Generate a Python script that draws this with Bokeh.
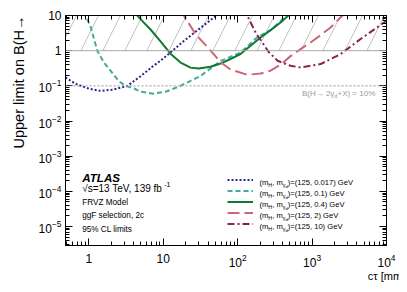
import math
from bokeh.plotting import figure
from bokeh.layouts import row
from bokeh.models import (Label, Span, LogAxis, FixedTicker, LogTickFormatter,
                          Range1d, Legend, LegendItem)
from bokeh.embed import file_html
from bokeh.resources import INLINE

# ---------------- data ----------------
m_H = 125
dark_photon_masses = ["0.017", "0.1", "0.4", "2", "10"]

ctau_0017 = [0.486, 0.66, 1.0, 1.44, 2.1, 3.3, 5.0, 7.0, 9.2, 12.5, 19, 27, 38, 52, 70]
limit_0017 = [0.174, 0.115, 0.083, 0.072, 0.078, 0.10, 0.19, 0.34, 0.52, 0.89, 1.9, 3.4, 6.0, 10, 16.5]

ctau_01 = [0.85, 0.90, 1.05, 1.3, 1.6, 1.96, 2.5, 3.1, 4.0, 4.95, 7.4, 11, 17, 31.6, 59, 110, 183, 280, 380, 440, 520]
limit_01 = [12.9, 10, 5.0, 1.0, 0.46, 0.27, 0.14, 0.10, 0.085, 0.068, 0.060, 0.069, 0.10, 0.19, 0.51, 0.89, 2.4, 3.9, 7.0, 10, 14.9]

ctau_04 = [4.0, 4.5, 4.95, 6.75, 9.2, 12.5, 17.1, 23.3, 30, 43, 59, 80, 109, 149, 203, 277, 377, 480, 560]
limit_04 = [13.4, 10, 7.9, 4.0, 1.85, 0.82, 0.46, 0.33, 0.31, 0.35, 0.43, 0.58, 0.80, 1.38, 2.37, 3.85, 6.3, 10, 13.4]

ctau_2 = [16.5, 18.9, 27.2, 43.3, 58.9, 80.3, 134.6, 203.7, 277, 378, 514, 701, 955, 1301, 1773, 2547, 3000]
limit_2 = [15.5, 10, 2.96, 1.0, 0.47, 0.29, 0.206, 0.225, 0.27, 0.40, 0.70, 1.11, 1.71, 2.77, 4.56, 9.8, 13]

ctau_10 = [120, 134.6, 174, 260, 344, 514, 701, 1301, 2415, 4487, 8337, 10000]
limit_10 = [16, 10, 3.29, 0.93, 0.516, 0.372, 0.333, 0.416, 0.80, 2.14, 5.4, 7.1]

x_limits = (0.486, 1.0e4)
y_limits = (2.9e-6, 10.0)
excluded_low, excluded_high = 1.0, 10.0
reference_level = 0.1
x_decades = [1, 10, 100, 1000, 10000]
y_decades = [1e-5, 1e-4, 1e-3, 1e-2, 1e-1, 1, 10]
plain_labels = {1.0: "1", 10.0: "10"}
x_title = "cτ [mm]"

colors = ["#332288", "#44AA99", "#117733", "#CC6677", "#882255"]
dashes = ["2 2", "5 3", "solid", "12 5", "7 3 2 3"]

FONT = "Liberation Sans"

# ---------------- layout geometry (page pixels) ----------------
TOTAL_W, TOTAL_H = 399, 284
STRIP_W = 28          # left strip holding the y title
MAIN_W = TOTAL_W - STRIP_W
MAIN_H = TOTAL_H
FRAME_L, FRAME_T, FRAME_R, FRAME_B = 65, 15, 386, 245


def blank_strip(w, h):
    f = figure(width=w, height=h, x_range=Range1d(0, w), y_range=Range1d(0, h),
               output_backend="svg", toolbar_location=None, title=None,
               x_axis_location=None, y_axis_location=None,
               min_border=0, min_border_left=0, min_border_right=0,
               min_border_top=0, min_border_bottom=0)
    f.grid.visible = False
    f.outline_line_color = None
    return f


# ---------------- main figure ----------------
p = figure(width=MAIN_W, height=MAIN_H, x_axis_type="log", y_axis_type="log",
           x_range=Range1d(*x_limits), y_range=Range1d(*y_limits),
           output_backend="svg", toolbar_location=None,
           min_border_left=FRAME_L - STRIP_W, min_border_right=TOTAL_W - FRAME_R,
           min_border_top=FRAME_T, min_border_bottom=MAIN_H - FRAME_B)
p.grid.visible = False
p.outline_line_color = "black"
p.outline_line_width = 1
p.background_fill_color = "white"

bottom_axis = p.below[0]
left_axis = p.left[0]


def minors(decs):
    lo = int(round(math.log10(decs[0]))) - 1
    hi = int(round(math.log10(decs[-1])))
    return [m * 10.0 ** e for e in range(lo, hi + 1) for m in range(2, 10)]


def style_axis(ax, decs, show_labels, standoff=5):
    ax.ticker = FixedTicker(ticks=decs, minor_ticks=minors(decs))
    ax.major_tick_in = 7
    ax.major_tick_out = 0
    ax.minor_tick_in = 4
    ax.minor_tick_out = 0
    ax.axis_line_color = "black"
    ax.major_tick_line_color = "black"
    ax.minor_tick_line_color = "black"
    if show_labels:
        ax.formatter = LogTickFormatter()
        ax.major_label_overrides = plain_labels
        ax.major_label_text_font = FONT
        ax.major_label_text_color = "black"
        ax.major_label_standoff = standoff
        ax.major_label_text_font_size = "12px"
    else:
        ax.major_label_text_font_size = "1px"
        ax.major_label_text_alpha = 0
        ax.major_label_standoff = 0


style_axis(bottom_axis, x_decades, True, standoff=8)
style_axis(left_axis, y_decades, True, standoff=4)
top_axis = LogAxis()
style_axis(top_axis, x_decades, False)
p.add_layout(top_axis, "above")
right_axis = LogAxis()
style_axis(right_axis, y_decades, False)
p.add_layout(right_axis, "right")

# x title: right-aligned at the end of the bottom axis
bottom_axis.axis_label_text_font = FONT
bottom_axis.axis_label_text_font_size = "11px"
bottom_axis.axis_label_text_font_style = "normal"
bottom_axis.axis_label_text_color = "black"
bottom_axis.axis_label_standoff = 0
if "axis_label_align" in bottom_axis.properties():
    bottom_axis.axis_label = x_title
    bottom_axis.axis_label_align = "end"
else:
    bottom_axis.axis_label = "\u00a0" * 92 + x_title

# excluded (hatched) region and reference lines
p.quad(left=[x_limits[0]], right=[x_limits[1]], bottom=[excluded_low], top=[excluded_high],
       fill_alpha=0, line_color=None, hatch_pattern="/", hatch_color="#a8a8a8",
       hatch_scale=44, hatch_weight=0.7)
p.add_layout(Span(location=excluded_low, dimension="width", line_color="#aaaaaa", line_width=1))
p.add_layout(Span(location=reference_level, dimension="width", line_color="#999999",
                  line_width=1, line_dash="2 2"))

# curves
series = [(ctau_0017, limit_0017), (ctau_01, limit_01), (ctau_04, limit_04),
          (ctau_2, limit_2), (ctau_10, limit_10)]
renderers = []
for (cx, cy), col, dsh in zip(series, colors, dashes):
    r = p.line(cx, cy, line_color=col, line_width=2, line_dash=dsh)
    renderers.append(r)

ROW_H = 11
LEG_X, LEG_BOTTOM = 227, 229   # page position of legend glyph column / lower edge
legend = Legend(items=[LegendItem(label=" ", renderers=[r]) for r in renderers],
                location=(LEG_X - FRAME_L, FRAME_B - LEG_BOTTOM), glyph_width=26,
                glyph_height=ROW_H, label_height=ROW_H,
                spacing=0, padding=0, margin=0, border_line_color=None,
                background_fill_alpha=0, label_text_font_size="2px", label_standoff=0,
                label_width=1)
p.add_layout(legend)

# ---------------- rich text helper ----------------
CW = {' ': 278, '(': 333, ')': 333, ',': 278, '.': 278, '=': 584, '+': 584, '-': 333, '%': 889,
      '[': 278, ']': 278, 'A': 667, 'B': 667, 'C': 722, 'F': 611, 'G': 778, 'H': 722, 'L': 556,
      'M': 833, 'R': 722, 'S': 667, 'T': 611, 'U': 722, 'V': 667, 'X': 667, 'Z': 611,
      'a': 556, 'b': 556, 'c': 500, 'd': 556, 'e': 556, 'f': 278, 'g': 556, 'i': 222, 'l': 222,
      'm': 833, 'n': 556, 'o': 556, 'p': 556, 'r': 333, 's': 500, 't': 278, 'u': 556, 'v': 500,
      'y': 500, 'γ': 500, 'τ': 440, '→': 1000, '√': 549}


def tw(s, size):
    return sum(CW.get(ch, 556) for ch in s) * size / 1000.0


def rich(fig, ox, oy, parts, px, py, angle=0.0, color="black", align="left", style="normal"):
    """Place a run of text pieces. (ox, oy): page position of fig's frame bottom-left.
    parts: (text, size, shift_up, advance_factor)"""
    x0, y0 = px - ox, oy - py
    total = sum(tw(t, s) * a for t, s, sh, a in parts)
    adv = -total if align == "right" else 0.0
    c, sn = math.cos(angle), math.sin(angle)
    for t, s, sh, a in parts:
        lx = x0 + adv * c - sh * sn
        ly = y0 + adv * sn + sh * c
        fig.add_layout(Label(x=lx, y=ly, x_units="screen", y_units="screen", text=t,
                             angle=angle, text_font=FONT, text_font_size=f"{s}px",
                             text_color=color, text_baseline="alphabetic", text_align="left",
                             text_font_style=style))
        adv += tw(t, s) * a


# ---- texts inside the main frame ----
rich(p, FRAME_L, FRAME_B, [("ATLAS", 11.6, 0, 1)], 81.7, 176.7, style="bold italic")
rich(p, FRAME_L, FRAME_B, [("√s=13 TeV, 139 fb", 10, 0, 1), ("-1", 7, 4, 1)], 81.7, 188.3)
rich(p, FRAME_L, FRAME_B, [("FRVZ Model", 8.2, 0, 1)], 81.7, 201.7)
rich(p, FRAME_L, FRAME_B, [("ggF selection, 2c", 8.2, 0, 1)], 81.7, 215)
rich(p, FRAME_L, FRAME_B, [("95% CL limits", 8.2, 0, 1)], 81.7, 229)

rich(p, FRAME_L, FRAME_B, [("B(H→ 2γ", 8, 0, 1), ("d", 5.6, -2, 1), (" +X) = 10%", 8, 0, 1)],
     377, 93, color="#999999", align="right")

LS = 7.6
row_top = LEG_BOTTOM - ROW_H * len(dark_photon_masses)
for i, m in enumerate(dark_photon_masses):
    base = row_top + ROW_H * i + ROW_H / 2 + 2.6
    rich(p, FRAME_L, FRAME_B,
         [("(m", LS, 0, 1), ("H", LS * 0.7, -2, 1), (", m", LS, 0, 1), ("γ", LS * 0.7, -2, 1),
          ("d", LS * 0.56, -3.5, 1), (f")=({m_H}, {m}) GeV", LS, 0, 1)], 259, base)

# ---- y title in left strip ----
left_strip = blank_strip(STRIP_W, TOTAL_H)
YS = 14.5
rich(left_strip, 0, TOTAL_H,
     [("Upper limit on B(H→ 2γ", YS, 0, 1), ("d", YS * 0.7, -3.5, 0.5),
      ("+", YS * 0.7, 5, 1), ("X)", YS, 0, 1)], 18, 187, angle=math.pi / 2)

layout = row(left_strip, p, spacing=0)
open("out.html", "w").write(file_html(layout, INLINE))
